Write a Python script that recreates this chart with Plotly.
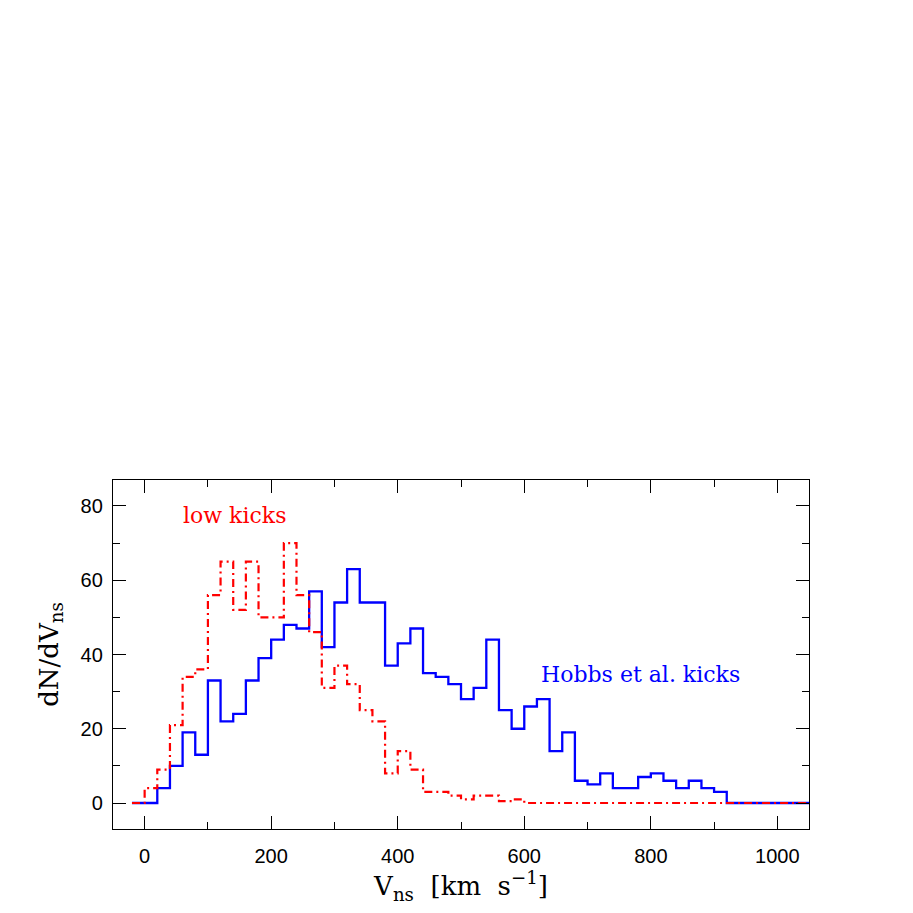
import plotly.graph_objects as go

# Bin edges (km/s) and histogram counts
bin_edges = list(range(-20, 1061, 20))

hobbs_counts = [0, 0, 4, 10, 19, 13, 33, 22, 24, 33,
                39, 44, 48, 47, 57, 42, 54, 63, 54, 54,
                37, 43, 47, 35, 34, 32, 28, 31, 44, 25,
                20, 26, 28, 14, 19, 6, 5, 8, 4, 4,
                7, 8, 6, 4, 6, 4, 3, 0, 0, 0,
                0, 0, 0, 0]

low_counts = [0, 4, 9, 21, 34, 36, 56, 65, 52, 65,
              50, 50, 70, 56, 46, 31, 37, 32, 25, 22,
              8, 14, 9, 3, 3, 2, 1, 2, 2, 0.5,
              1, 0, 0, 0, 0, 0, 0, 0, 0, 0,
              0, 0, 0, 0, 0, 0, 0, 0, 0, 0,
              0, 0, 0, 0]

x_ticks = [0, 200, 400, 600, 800, 1000]
y_ticks = [0, 20, 40, 60, 80]

def step_xy(edges, vals):
    return list(edges), list(vals) + [vals[-1]]

fig = go.Figure()
hx, hy = step_xy(bin_edges, hobbs_counts)
fig.add_trace(go.Scatter(x=hx, y=hy, mode="lines", line_shape="hv",
                         line=dict(color="#0000ff", width=2.3),
                         showlegend=False, hoverinfo="skip"))
lx, ly = step_xy(bin_edges, low_counts)
fig.add_trace(go.Scatter(x=lx, y=ly, mode="lines", line_shape="hv",
                         line=dict(color="#ff0000", width=2.2, dash="8px,4px,2px,4px"),
                         showlegend=False, hoverinfo="skip"))

fig.add_annotation(x=142, y=77.5, text="low kicks", showarrow=False,
                   xanchor="center", yanchor="middle",
                   font=dict(family="DejaVu Serif", size=22, color="#ff0000"))
fig.add_annotation(x=783, y=34.6, text="Hobbs et al. kicks", showarrow=False,
                   xanchor="center", yanchor="middle",
                   font=dict(family="DejaVu Serif", size=22, color="#0000ff"))

axis_common = dict(showline=True, linecolor="black", linewidth=1.3, mirror="allticks",
                   ticks="inside", tickcolor="black", tickwidth=1.3, ticklen=13,
                   showgrid=False, zeroline=False, automargin=False,
                   tickfont=dict(family="Liberation Sans, Arial", size=20, color="black"))

fig.update_xaxes(range=[-50, 1050], tickvals=x_ticks,
                 minor=dict(dtick=100, tick0=0, ticks="inside", ticklen=7,
                            tickcolor="black", tickwidth=1.3, showgrid=False),
                 ticklabelstandoff=9,
                 title=dict(text="V<sub>ns</sub>  [km  s<sup>−1</sup>]",
                            font=dict(family="DejaVu Serif", size=26, color="black"),
                            standoff=8),
                 **axis_common)
fig.update_yaxes(range=[-7, 87], tickvals=y_ticks,
                 minor=dict(dtick=10, tick0=0, ticks="inside", ticklen=7,
                            tickcolor="black", tickwidth=1.3, showgrid=False),
                 ticklabelstandoff=5,
                 title=dict(text="dN/dV<sub>ns</sub>",
                            font=dict(family="DejaVu Serif", size=26, color="black"),
                            standoff=14),
                 **axis_common)

# page body has an 8px margin, so the figure is sized/offset to compensate
fig.update_layout(width=905, height=905,
                  margin=dict(l=105, r=104, t=472, b=84, pad=0),
                  paper_bgcolor="white", plot_bgcolor="white")

fig.write_html("out.html")
